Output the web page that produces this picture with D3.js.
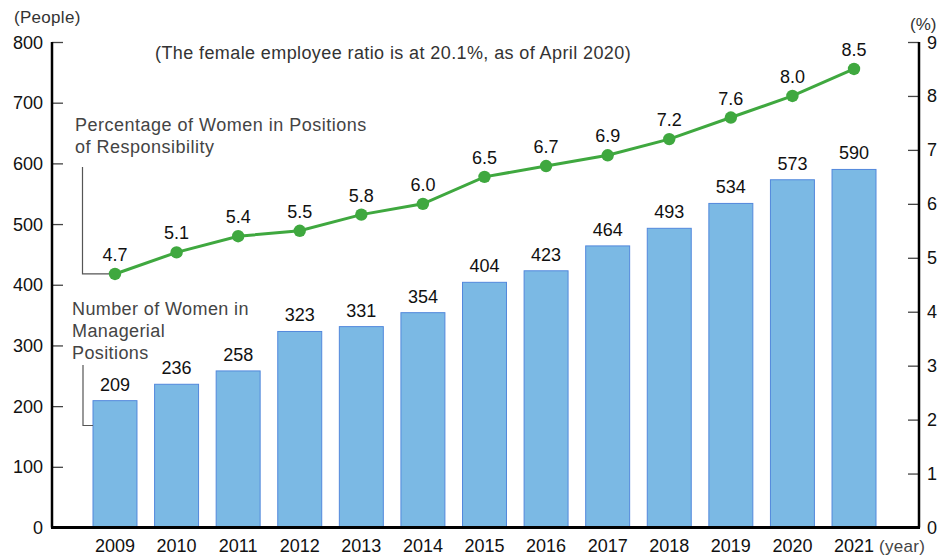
<!DOCTYPE html>
<html>
<head>
<meta charset="utf-8">
<script src="https://cdn.jsdelivr.net/npm/d3@7"></script>
<style>
  body { margin: 0; background: #fff; }
  text { font-family: "Liberation Sans", Arial, sans-serif; }
</style>
</head>
<body>
<div id="chart"></div>
<script>
// women in management chart: bars (people) + line (%)
const years = ['2009', '2010', '2011', '2012', '2013', '2014', '2015', '2016', '2017', '2018', '2019', '2020', '2021'];
const managers = [209, 236, 258, 323, 331, 354, 404, 423, 464, 493, 534, 573, 590];
const ratio = [4.7, 5.1, 5.4, 5.5, 5.8, 6.0, 6.5, 6.7, 6.9, 7.2, 7.6, 8.0, 8.5];
const leftTicks = [0, 100, 200, 300, 400, 500, 600, 700, 800];
const rightTicks = [0, 1, 2, 3, 4, 5, 6, 7, 8, 9];

const width = 939, height = 559;
const x0 = 52, x1 = 919, yTop = 42, yBot = 527.5;

const svg = d3.select('#chart').append('svg')
  .attr('width', width)
  .attr('height', height);

const x = d3.scaleBand().domain(years)
  .range([93, 876])
  .paddingInner(0.286)
  .paddingOuter(0);
const yL = d3.scaleLinear().domain([0, 800]).range([yBot, yTop]);
const yR = d3.scaleLinear().domain([0, 9]).range([yBot, yTop]);
const cx = d => x(d) + x.bandwidth() / 2;

// bars
svg.append('g')
  .selectAll('rect')
  .data(managers)
  .join('rect')
  .attr('x', (d, i) => x(years[i]))
  .attr('y', d => yL(d))
  .attr('width', x.bandwidth())
  .attr('height', d => yBot - yL(d))
  .attr('fill', '#7bb9e4')
  .attr('stroke', '#5288dc')
  .attr('stroke-width', 1);

svg.append('g')
  .selectAll('text')
  .data(managers)
  .join('text')
  .attr('x', (d, i) => cx(years[i]))
  .attr('y', d => yL(d) - 10)
  .attr('text-anchor', 'middle')
  .attr('font-size', 18)
  .attr('fill', '#111')
  .text(d => d);

// left axis
const left = svg.append('g').attr('transform', `translate(${x0},0)`)
  .call(d3.axisRight(yL).tickValues(leftTicks).tickSize(11).tickFormat(''));
left.select('.domain').remove();
left.selectAll('.tick line').attr('stroke', '#444').attr('stroke-width', 1.3);
svg.append('line').attr('x1', x0).attr('x2', x0).attr('y1', yTop).attr('y2', yBot)
  .attr('stroke', '#000').attr('stroke-width', 2.5);
svg.append('g').selectAll('text').data(leftTicks).join('text')
  .attr('x', 43).attr('y', d => yL(d) + 6.5)
  .attr('text-anchor', 'end').attr('font-size', 18).attr('fill', '#111')
  .text(d => d);

// right axis
const right = svg.append('g').attr('transform', `translate(${x1},0)`)
  .call(d3.axisLeft(yR).tickValues(rightTicks).tickSize(11).tickFormat(''));
right.select('.domain').remove();
right.selectAll('.tick line').attr('stroke', '#444').attr('stroke-width', 1.3);
svg.append('line').attr('x1', x1).attr('x2', x1).attr('y1', yTop).attr('y2', yBot)
  .attr('stroke', '#000').attr('stroke-width', 2.5);
svg.append('g').selectAll('text').data(rightTicks).join('text')
  .attr('x', 927).attr('y', d => yR(d) + 6.5)
  .attr('font-size', 18).attr('fill', '#111')
  .text(d => d);

// bottom axis
svg.append('line').attr('x1', x0 - 1).attr('x2', x1 + 1).attr('y1', yBot).attr('y2', yBot)
  .attr('stroke', '#000').attr('stroke-width', 3);
svg.append('g').selectAll('text').data(years).join('text')
  .attr('x', d => cx(d)).attr('y', 552)
  .attr('text-anchor', 'middle').attr('font-size', 18).attr('fill', '#111')
  .text(d => d);

// line series
const line = d3.line().x((d, i) => cx(years[i])).y(d => yR(d));
svg.append('path')
  .datum(ratio)
  .attr('d', line)
  .attr('fill', 'none')
  .attr('stroke', '#3fa83f')
  .attr('stroke-width', 3);
svg.append('g').selectAll('circle').data(ratio).join('circle')
  .attr('cx', (d, i) => cx(years[i]))
  .attr('cy', d => yR(d))
  .attr('r', 6.2)
  .attr('fill', '#3fa83f');
svg.append('g').selectAll('text').data(ratio).join('text')
  .attr('x', (d, i) => cx(years[i]))
  .attr('y', d => yR(d) - 13)
  .attr('text-anchor', 'middle').attr('font-size', 18).attr('fill', '#111')
  .text(d => d.toFixed(1));

// unit labels
svg.append('text').attr('x', 14).attr('y', 23).attr('font-size', 17).attr('letter-spacing', 0.3)
  .attr('fill', '#333').text('(People)');
svg.append('text').attr('x', 910).attr('y', 30).attr('font-size', 17).attr('fill', '#333').text('(%)');
svg.append('text').attr('x', 879).attr('y', 552).attr('font-size', 17).attr('letter-spacing', 0.3)
  .attr('fill', '#444').text('(year)');

// note
svg.append('text').attr('x', 155).attr('y', 59).attr('font-size', 18).attr('letter-spacing', 0.4)
  .attr('fill', '#333')
  .text('(The female employee ratio is at 20.1%, as of April 2020)');

// series callouts
const pct = svg.append('text').attr('font-size', 18).attr('letter-spacing', 0.5).attr('fill', '#444');
pct.append('tspan').attr('x', 75).attr('y', 131).text('Percentage of Women in Positions');
pct.append('tspan').attr('x', 75).attr('y', 153).text('of Responsibility');
svg.append('path')
  .attr('d', `M82.5,167V${yR(ratio[0])}H${cx(years[0]) - 6}`)
  .attr('fill', 'none').attr('stroke', '#555').attr('stroke-width', 1.2);

const num = svg.append('text').attr('font-size', 18).attr('letter-spacing', 0.4).attr('fill', '#444');
num.append('tspan').attr('x', 72).attr('y', 315).text('Number of Women in');
num.append('tspan').attr('x', 72).attr('y', 337).text('Managerial');
num.append('tspan').attr('x', 72).attr('y', 359).text('Positions');
svg.append('path')
  .attr('d', `M83,365V425.5H${x(years[0])}`)
  .attr('fill', 'none').attr('stroke', '#555').attr('stroke-width', 1.2);
</script>
</body>
</html>
